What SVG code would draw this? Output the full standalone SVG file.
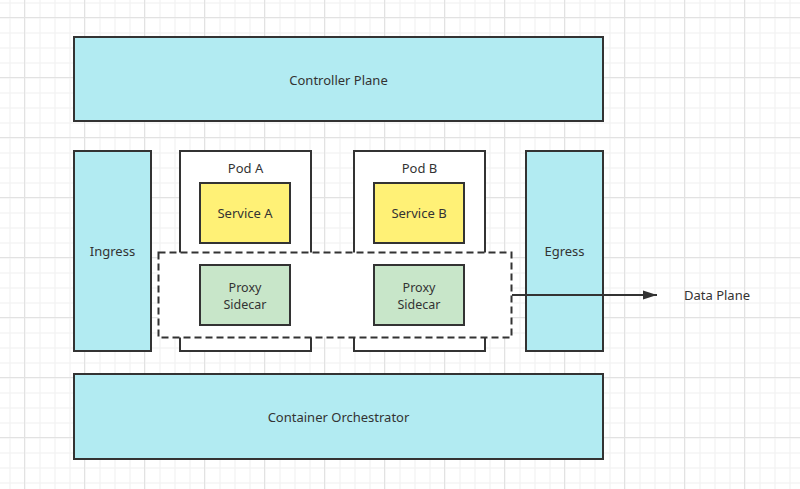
<svg xmlns="http://www.w3.org/2000/svg" width="800" height="489" viewBox="0 0 800 489">
<defs>
<pattern id="minor" x="9.5" y="2.5" width="15" height="15" patternUnits="userSpaceOnUse">
<path d="M0 0H15M0 0V15" fill="none" stroke="#efefef" stroke-width="1" transform="translate(0.5,0.5)"/>
</pattern>
<pattern id="major" x="24" y="17" width="60" height="60" patternUnits="userSpaceOnUse">
<path d="M0.5 0V60M0 0.5H60" fill="none" stroke="#e2e2e2" stroke-width="1"/>
</pattern>
<marker id="arrow" viewBox="0 0 14 10" refX="14" refY="5" markerWidth="14" markerHeight="10" markerUnits="userSpaceOnUse" orient="auto">
<path d="M0 0.5L14 5L0 9.5Z" fill="#333"/>
</marker>
</defs>
<style>
.box{stroke:#333;stroke-width:2}
.cyan{fill:#b2ebf2}
.yellow{fill:#fff176}
.green{fill:#c8e6c9}
.white{fill:#fff}
text{font-family:"Noto Sans","Open Sans","Liberation Sans",sans-serif;font-size:13px;fill:#333;text-anchor:middle;dominant-baseline:central}
.small{font-size:12.5px}
</style>
<rect width="800" height="489" fill="#fff"/>
<rect width="800" height="489" fill="url(#minor)"/>
<rect width="800" height="489" fill="url(#major)"/>

<g id="controller-plane">
<rect class="box cyan" x="74" y="37" width="529" height="84"/>
<text x="338.5" y="80">Controller Plane</text>
</g>
<g id="ingress">
<rect class="box cyan" x="74" y="151" width="77" height="200"/>
<text x="112.5" y="251">Ingress</text>
</g>
<g id="egress">
<rect class="box cyan" x="526" y="151" width="77" height="200"/>
<text x="564.5" y="251">Egress</text>
</g>
<g id="pod-a">
<rect class="box white" x="180" y="151" width="131" height="200"/>
<text x="245.5" y="168">Pod A</text>
</g>
<g id="pod-b">
<rect class="box white" x="354" y="151" width="131" height="200"/>
<text x="419.5" y="168">Pod B</text>
</g>
<g id="data-plane">
<rect x="158.5" y="252.5" width="353" height="85" fill="#fff" stroke="#333" stroke-width="2" stroke-dasharray="7 4"/>
</g>
<g id="service-a">
<rect class="box yellow" x="200" y="183" width="90" height="60"/>
<text x="245" y="213">Service A</text>
</g>
<g id="service-b">
<rect class="box yellow" x="374" y="183" width="90" height="60"/>
<text x="419" y="213">Service B</text>
</g>
<g id="proxy-a">
<rect class="box green" x="200" y="265" width="90" height="60"/>
<text class="small" x="245" y="287">Proxy</text>
<text class="small" x="245" y="304">Sidecar</text>
</g>
<g id="proxy-b">
<rect class="box green" x="374" y="265" width="90" height="60"/>
<text class="small" x="419" y="287">Proxy</text>
<text class="small" x="419" y="304">Sidecar</text>
</g>
<g id="container-orchestrator">
<rect class="box cyan" x="74" y="374" width="529" height="85"/>
<text x="338.5" y="417">Container Orchestrator</text>
</g>
<g id="connectors">
<line x1="512" y1="295" x2="657" y2="295" stroke="#333" stroke-width="2" marker-end="url(#arrow)"/>
</g>
<g id="data-plane-label">
<text x="717" y="295">Data Plane</text>
</g>
</svg>
